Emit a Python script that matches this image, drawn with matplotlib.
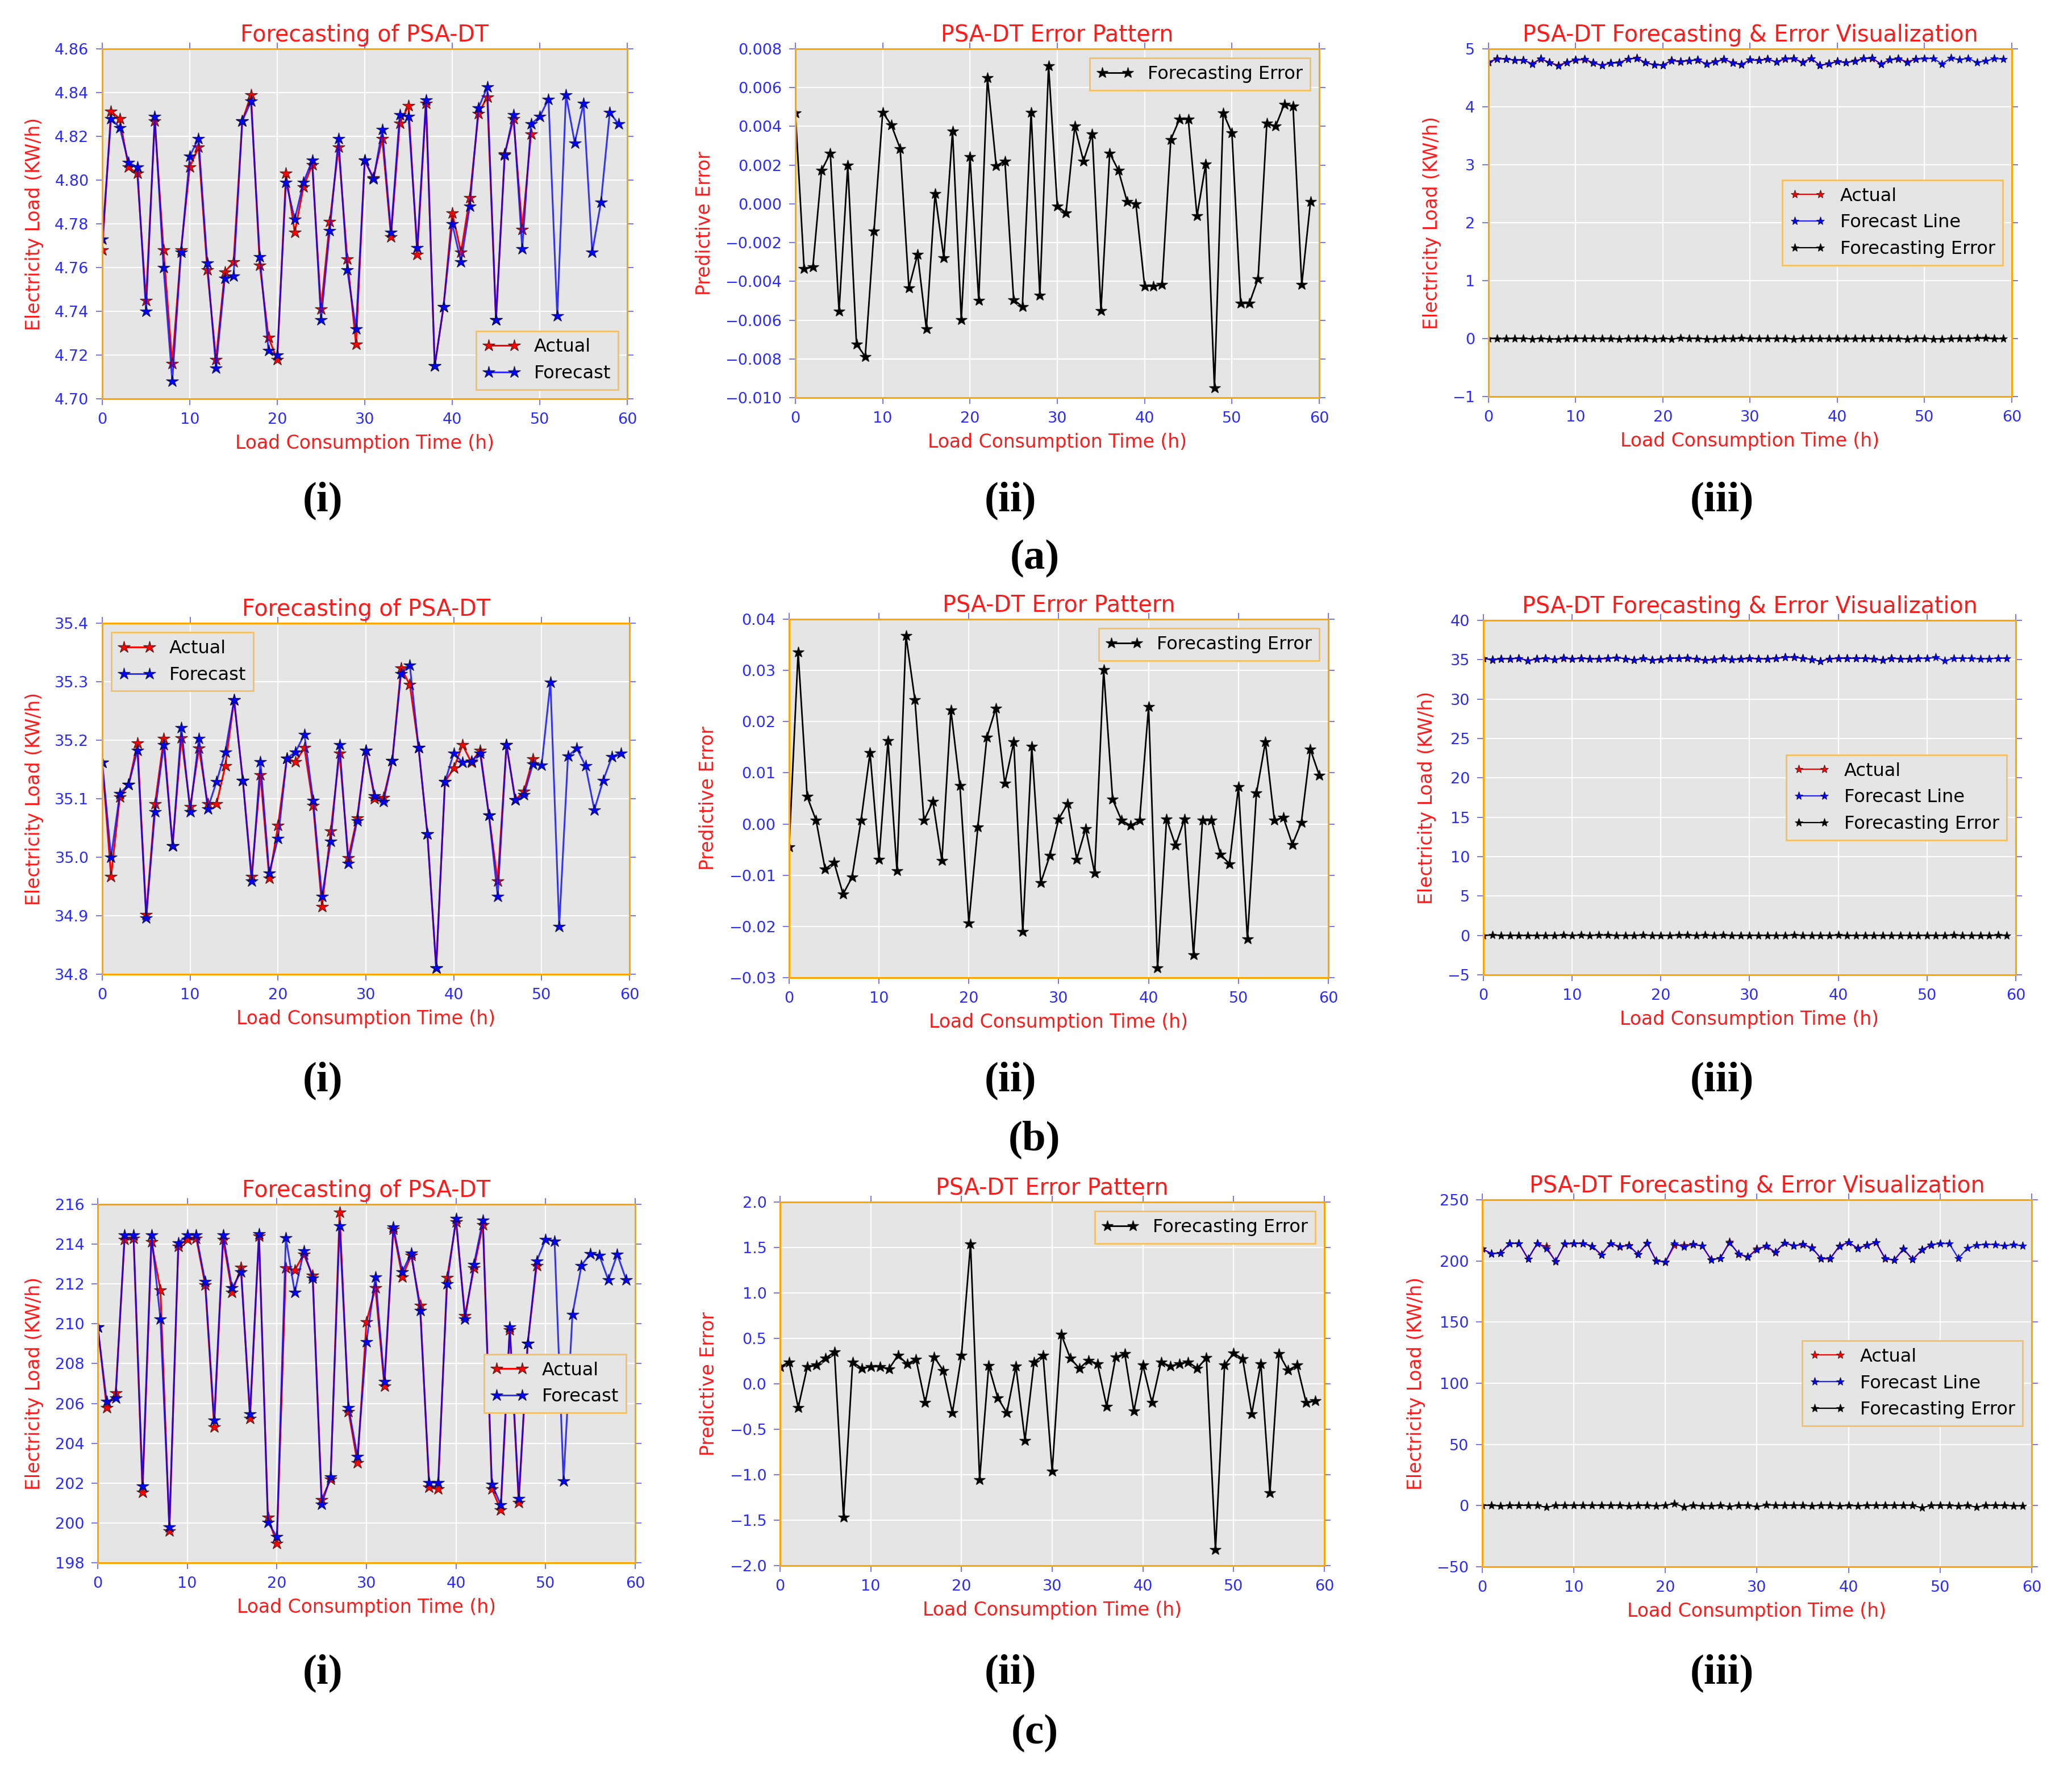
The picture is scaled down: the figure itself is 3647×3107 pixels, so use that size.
import matplotlib
matplotlib.use("Agg")
import matplotlib.pyplot as plt
import numpy as np

# ---------------- data ----------------
hours = list(range(60))

a_actual = [4.768, 4.8315, 4.828, 4.806, 4.803, 4.745, 4.827, 4.768, 4.716, 4.768,
            4.806, 4.815, 4.759, 4.718, 4.758, 4.7625, 4.827, 4.839, 4.761, 4.728,
            4.718, 4.803, 4.776, 4.797, 4.807, 4.741, 4.781, 4.815, 4.764, 4.725,
            4.809, 4.801, 4.819, 4.774, 4.826, 4.834, 4.766, 4.835, 4.715, 4.742,
            4.785, 4.767, 4.792, 4.8305, 4.838, 4.736, 4.812, 4.828, 4.7775, 4.821]
a_forecast = [4.773, 4.828, 4.824, 4.808, 4.806, 4.740, 4.829, 4.760, 4.708, 4.767,
              4.811, 4.819, 4.762, 4.714, 4.755, 4.756, 4.827, 4.836, 4.765, 4.722,
              4.720, 4.799, 4.782, 4.799, 4.809, 4.736, 4.777, 4.819, 4.759, 4.732,
              4.809, 4.8005, 4.823, 4.776, 4.830, 4.829, 4.769, 4.8365, 4.715, 4.742,
              4.780, 4.7625, 4.788, 4.833, 4.8425, 4.736, 4.8115, 4.830, 4.7685, 4.8256,
              4.829, 4.837, 4.738, 4.839, 4.817, 4.835, 4.767, 4.790, 4.831, 4.8256]
a_error = [0.0047, -0.00335, -0.00326, 0.00173, 0.00262, -0.00555, 0.00198, -0.00724, -0.00788, -0.00141,
           0.00472, 0.00406, 0.00285, -0.00434, -0.0026, -0.00644, 0.00052, -0.00279, 0.00376, -0.00597,
           0.00244, -0.00498, 0.0065, 0.00196, 0.00221, -0.00495, -0.0053, 0.00472, -0.00472, 0.00713,
           -0.00012, -0.00046, 0.004, 0.00221, 0.00361, -0.00552, 0.00262, 0.00173, 0.00011, 0.0,
           -0.00424, -0.00424, -0.00418, 0.00332, 0.00437, 0.00437, -0.00063, 0.00205, -0.0095, 0.0047,
           0.00365, -0.00513, -0.00513, -0.00386, 0.00416, 0.004, 0.00514, 0.00505, -0.00418, 0.00011]

b_actual = [35.162, 34.967, 35.103, 35.124, 35.195, 34.902, 35.091, 35.203, 35.019, 35.204,
            35.086, 35.186, 35.091, 35.091, 35.156, 35.269, 35.131, 34.967, 35.141, 34.964,
            35.054, 35.169, 35.163, 35.187, 35.088, 34.916, 35.045, 35.178, 34.999, 35.067,
            35.183, 35.100, 35.102, 35.165, 35.323, 35.295, 35.187, 35.040, 34.811, 35.129,
            35.152, 35.192, 35.162, 35.183, 35.072, 34.959, 35.192, 35.098, 35.113, 35.168]
b_forecast = [35.162, 35.000, 35.109, 35.124, 35.183, 34.896, 35.078, 35.192, 35.019, 35.221,
              35.078, 35.203, 35.083, 35.129, 35.180, 35.269, 35.131, 34.959, 35.163, 34.973,
              35.032, 35.169, 35.180, 35.210, 35.097, 34.933, 35.027, 35.192, 34.989, 35.062,
              35.183, 35.105, 35.095, 35.165, 35.314, 35.328, 35.187, 35.040, 34.811, 35.129,
              35.178, 35.162, 35.164, 35.178, 35.072, 34.933, 35.192, 35.098, 35.107, 35.159,
              35.157, 35.299, 34.882, 35.173, 35.186, 35.156, 35.081, 35.131, 35.172, 35.178]
b_error = [-0.0045, 0.0336, 0.0054, 0.0007, -0.0088, -0.0075, -0.0137, -0.0104, 0.0007, 0.0139,
           -0.0069, 0.0163, -0.0091, 0.0368, 0.0242, 0.0007, 0.0044, -0.0072, 0.0223, 0.0075,
           -0.0193, -0.0006, 0.0169, 0.0226, 0.0079, 0.0160, -0.0210, 0.0151, -0.0115, -0.0062,
           0.0010, 0.0040, -0.0069, -0.0009, -0.0096, 0.0301, 0.0048, 0.0007, -0.0003, 0.0007,
           0.0229, -0.0281, 0.0010, -0.0042, 0.0010, -0.0256, 0.0007, 0.0007, -0.0059, -0.0078,
           0.0073, -0.0225, 0.0060, 0.0160, 0.0007, 0.0013, -0.0040, 0.0003, 0.0146, 0.0095]

c_actual = [209.85, 205.8, 206.53, 214.24, 214.28, 201.53, 214.12, 211.70, 199.6, 213.9,
            214.24, 214.3, 211.95, 204.83, 214.24, 211.57, 212.83, 205.25, 214.41, 200.28,
            198.97, 212.8, 212.7, 213.49, 212.42, 201.16, 202.2, 215.59, 205.59, 203.01,
            210.1, 211.8, 206.88, 214.75, 212.36, 213.43, 210.92, 201.78, 201.7, 212.32,
            215.12, 210.42, 212.8, 214.96, 201.7, 200.66, 209.69, 201.01, 209.0, 212.93]
c_forecast = [209.85, 206.09, 206.28, 214.46, 214.46, 201.86, 214.46, 210.23, 199.81, 214.06,
              214.46, 214.46, 212.11, 205.15, 214.46, 211.8, 212.61, 205.46, 214.53, 200.03,
              199.31, 214.31, 211.57, 213.65, 212.3, 200.94, 202.32, 214.93, 205.8, 203.33,
              209.1, 212.36, 207.09, 214.87, 212.61, 213.55, 210.67, 202.03, 202.01, 212.02,
              215.28, 210.23, 212.99, 215.21, 201.95, 200.91, 209.85, 201.23, 209.0, 213.15,
              214.24, 214.16, 202.11, 210.48, 212.93, 213.53, 213.43, 212.2, 213.49, 212.2]
c_error = [0.185, 0.24, -0.264, 0.185, 0.204, 0.28, 0.35, -1.468, 0.24, 0.17,
           0.19, 0.19, 0.163, 0.314, 0.22, 0.267, -0.209, 0.295, 0.143, -0.32,
           0.314, 1.54, -1.055, 0.198, -0.154, -0.32, 0.193, -0.623, 0.24, 0.314,
           -0.964, 0.543, 0.28, 0.17, 0.259, 0.22, -0.248, 0.295, 0.33, -0.303,
           0.204, -0.209, 0.24, 0.193, 0.22, 0.24, 0.17, 0.286, -1.826, 0.204,
           0.336, 0.275, -0.33, 0.22, -1.2, 0.33, 0.149, 0.204, -0.209, -0.187]

xticks = [0, 10, 20, 30, 40, 50, 60]
a_yticks_i = [4.70, 4.72, 4.74, 4.76, 4.78, 4.80, 4.82, 4.84, 4.86]
a_yticks_ii = [-0.010, -0.008, -0.006, -0.004, -0.002, 0.000, 0.002, 0.004, 0.006, 0.008]
a_yticks_iii = [-1, 0, 1, 2, 3, 4, 5]
b_yticks_i = [34.8, 34.9, 35.0, 35.1, 35.2, 35.3, 35.4]
b_yticks_ii = [-0.03, -0.02, -0.01, 0.00, 0.01, 0.02, 0.03, 0.04]
b_yticks_iii = [-5, 0, 5, 10, 15, 20, 25, 30, 35, 40]
c_yticks_i = [198, 200, 202, 204, 206, 208, 210, 212, 214, 216]
c_yticks_ii = [-2.0, -1.5, -1.0, -0.5, 0.0, 0.5, 1.0, 1.5, 2.0]
c_yticks_iii = [-50, 0, 50, 100, 150, 200, 250]

title_i = "Forecasting of PSA-DT"
title_ii = "PSA-DT Error Pattern"
title_iii = "PSA-DT Forecasting & Error Visualization"
xlabel = "Load Consumption Time (h)"
ylabel_load = "Electricity Load (KW/h)"
ylabel_err = "Predictive Error"

# ---------------- style ----------------
W, H = 3648, 3107
fig = plt.figure(figsize=(W / 100, H / 100), dpi=100)
fig.patch.set_facecolor("white")

BG = "#e5e5e5"
TICKC = "#2b2bff"
RED = "#ff1a1a"
ORANGE = "#ffa500"


def rect(l, t, r, b):
    return [l / W, 1 - b / H, (r - l) / W, (b - t) / H]


def style(ax, yticks, ylabel, title):
    ax.set_facecolor(BG)
    ax.set_axisbelow(True)
    ax.grid(True, color="white", linewidth=1.6)
    for s in ax.spines.values():
        s.set_color(ORANGE)
        s.set_linewidth(2.2)
    ax.set_xlim(0, 60)
    ax.set_xticks(xticks)
    ax.set_yticks(yticks)
    ax.set_ylim(yticks[0], yticks[-1])
    ax.tick_params(axis="both", which="both", direction="out", length=8, width=1.3,
                   color="#6a6aff", labelcolor=TICKC, labelsize=19.5, pad=9,
                   top=True, right=True, labeltop=False, labelright=False)
    ax.set_title(title, color=RED, fontsize=28.5, pad=9)
    ax.set_xlabel(xlabel, color=RED, fontsize=23.8, labelpad=9)
    ax.set_ylabel(ylabel, color=RED, fontsize=23.8, labelpad=14)


def legend(ax, loc):
    lg = ax.legend(loc=loc, fontsize=23, numpoints=2, fancybox=False,
                   facecolor=BG, framealpha=1.0, edgecolor="#f5c060")
    lg.get_frame().set_linewidth(2.0)
    return lg


def panel_i(r, actual, forecast, yticks, loc):
    ax = fig.add_axes(rect(*r))
    style(ax, yticks, ylabel_load, title_i)
    ax.plot(hours[:len(actual)], actual, color="red", linewidth=2.2, marker="*",
            markersize=16, markerfacecolor="red", markeredgecolor=(0, 0, 0, 0.6),
            markeredgewidth=1.0, label="Actual")
    ax.plot(hours[:len(forecast)], forecast, color=(0, 0, 1, 0.78), linewidth=2.2, marker="*",
            markersize=16, markerfacecolor="blue", markeredgecolor=(0, 0, 0, 0.6),
            markeredgewidth=1.0, label="Forecast")
    legend(ax, loc)
    return ax


def panel_ii(r, error, yticks):
    ax = fig.add_axes(rect(*r))
    style(ax, yticks, ylabel_err, title_ii)
    ax.plot(hours[:len(error)], error, color="black", linewidth=2.0, marker="*",
            markersize=15, markerfacecolor="black", markeredgecolor=(0, 0, 0, 0.7),
            markeredgewidth=1.0, label="Forecasting Error")
    legend(ax, "upper right")
    return ax


def panel_iii(r, actual, forecast, error, yticks):
    ax = fig.add_axes(rect(*r))
    style(ax, yticks, ylabel_load, title_iii)
    ax.plot(hours[:len(actual)], actual, color="red", linewidth=1.6, marker="*",
            markersize=11, markerfacecolor="red", markeredgecolor=(0, 0, 0, 0.6),
            markeredgewidth=0.8, label="Actual")
    ax.plot(hours[:len(forecast)], forecast, color=(0, 0, 1, 0.85), linewidth=1.6, marker="*",
            markersize=11, markerfacecolor="blue", markeredgecolor=(0, 0, 0, 0.6),
            markeredgewidth=0.8, label="Forecast Line")
    ax.plot(hours[:len(error)], error, color="black", linewidth=1.6, marker="*",
            markersize=11, markerfacecolor="black", markeredgecolor=(0, 0, 0, 0.7),
            markeredgewidth=0.8, label="Forecasting Error")
    legend(ax, "center right")
    return ax


# row (a)
panel_i((180, 86, 1104, 702), a_actual, a_forecast, a_yticks_i, "lower right")
panel_ii((1400, 86, 2322, 700), a_error, a_yticks_ii)
panel_iii((2620, 86, 3541, 698), a_actual, a_forecast, a_error, a_yticks_iii)

# row (b)
panel_i((180, 1097, 1108, 1715), b_actual, b_forecast, b_yticks_i, "upper left")
panel_ii((1389, 1090, 2338, 1721), b_error, b_yticks_ii)
panel_iii((2611, 1092, 3548, 1716), b_actual, b_forecast, b_error, b_yticks_iii)

# row (c)
panel_i((172, 2120, 1118, 2751), c_actual, c_forecast, c_yticks_i, "center right")
panel_ii((1373, 2116, 2331, 2756), c_error, c_yticks_ii)
panel_iii((2609, 2112, 3576, 2758), c_actual, c_forecast, c_error, c_yticks_iii)

# sub-figure labels
sub_labels = ["(i)", "(ii)", "(iii)"]
sub_x = [568, 1779, 3031]
row_y = [881, 1902, 2945]
row_labels = ["(a)", "(b)", "(c)"]
row_label_y = [983, 2006, 3051]
LABFONT = dict(family=["Liberation Serif", "DejaVu Serif"], fontweight="bold", fontsize=54)
for ry in row_y:
    for sx, s in zip(sub_x, sub_labels):
        fig.text(sx / W, 1 - ry / H, s, ha="center", va="center", **LABFONT)
for ry, s in zip(row_label_y, row_labels):
    fig.text(1821 / W, 1 - ry / H, s, ha="center", va="center", **LABFONT)

fig.savefig("out.png", dpi=100, facecolor="white")
